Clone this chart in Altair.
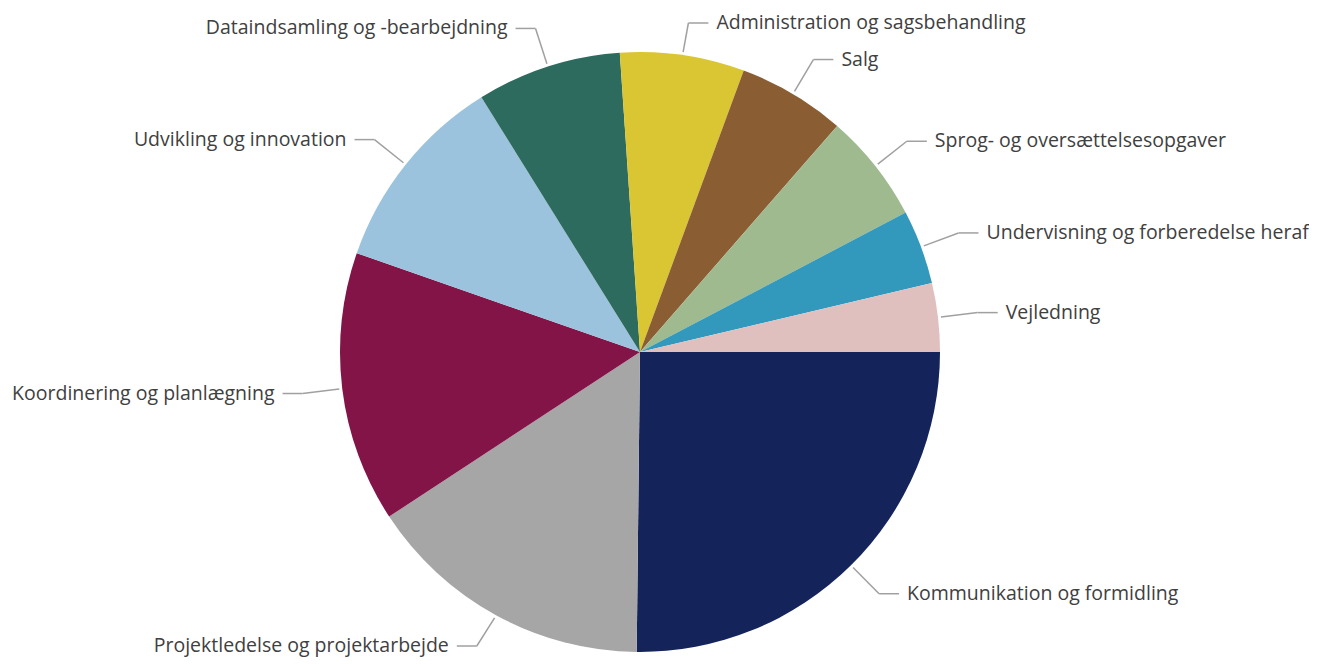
import altair as alt
import pandas as pd

categories = [
    "Kommunikation og formidling",
    "Projektledelse og projektarbejde",
    "Koordinering og planlægning",
    "Udvikling og innovation",
    "Dataindsamling og -bearbejdning",
    "Administration og sagsbehandling",
    "Salg",
    "Sprog- og oversættelsesopgaver",
    "Undervisning og forberedelse heraf",
    "Vejledning",
]
values = [25.2, 15.6, 14.6, 10.8, 7.8, 6.7, 5.8, 5.9, 4.0, 3.7]
colors = ["#14245A", "#A6A6A6", "#821447", "#9CC3DD", "#2E6B5F",
          "#DAC632", "#8B5D33", "#9EBA8E", "#3399BC", "#E0BFBF"]

df = pd.DataFrame({"category": categories, "value": values,
                   "order": list(range(len(categories)))})

CX, CY, R = 632, 344, 300
R_IN, R_ELBOW, HSEG, GAP = 303, 340, 20, 8
TOP_MIN, BOTTOM_MAX = 15, 638

base = alt.Chart(df).transform_window(
    cum="sum(value)", sort=[alt.SortField("order")], frame=[None, 0]
).transform_joinaggregate(total="sum(value)").transform_calculate(
    mid="(datum.cum - datum.value/2) / datum.total * 2 * PI",
).transform_calculate(
    side="cos(datum.mid) >= 0 ? 1 : -1",
    x0=f"{CX} + {R_IN} * cos(datum.mid)",
    y0=f"{CY} + {R_IN} * sin(datum.mid)",
    x1=f"{CX} + {R_ELBOW} * cos(datum.mid)",
    y1=f"min({BOTTOM_MAX}, max({TOP_MIN}, {CY} + {R_ELBOW} * sin(datum.mid)))",
).transform_calculate(
    x2=f"datum.x1 + datum.side * {HSEG}",
    xt=f"datum.x1 + datum.side * {HSEG + GAP}",
)

pie = alt.Chart(df).mark_arc(outerRadius=R).encode(
    theta=alt.Theta("value:Q", stack=True,
                    scale=alt.Scale(range=[3.14159265 / 2, 3.14159265 / 2 + 2 * 3.14159265])),
    order=alt.Order("order:Q"),
    color=alt.Color("category:N", scale=alt.Scale(domain=categories, range=colors), legend=None),
    x=alt.value(CX),
    y=alt.value(CY),
)

leader1 = base.mark_rule(color="#A0A0A0", strokeWidth=1.5).encode(
    x=alt.X("x0:Q", scale=None), y=alt.Y("y0:Q", scale=None),
    x2="x1:Q", y2="y1:Q",
)
leader2 = base.mark_rule(color="#A0A0A0", strokeWidth=1.5).encode(
    x=alt.X("x1:Q", scale=None), y=alt.Y("y1:Q", scale=None),
    x2="x2:Q", y2="y1:Q",
)

font = "Open Sans"
FS = 19.5
text_right = base.transform_filter("datum.side > 0").mark_text(
    align="left", baseline="middle", fontSize=FS, font=font, color="#404040"
).encode(x=alt.X("xt:Q", scale=None), y=alt.Y("y1:Q", scale=None), text="category:N")
text_left = base.transform_filter("datum.side < 0").mark_text(
    align="right", baseline="middle", fontSize=FS, font=font, color="#404040"
).encode(x=alt.X("xt:Q", scale=None), y=alt.Y("y1:Q", scale=None), text="category:N")

chart = alt.layer(pie, leader1, leader2, text_right, text_left).properties(
    width=1300, height=654, padding=0, background="white"
).configure_view(stroke=None)

chart.save("out.html", embed_options={"renderer": "svg", "actions": False})
